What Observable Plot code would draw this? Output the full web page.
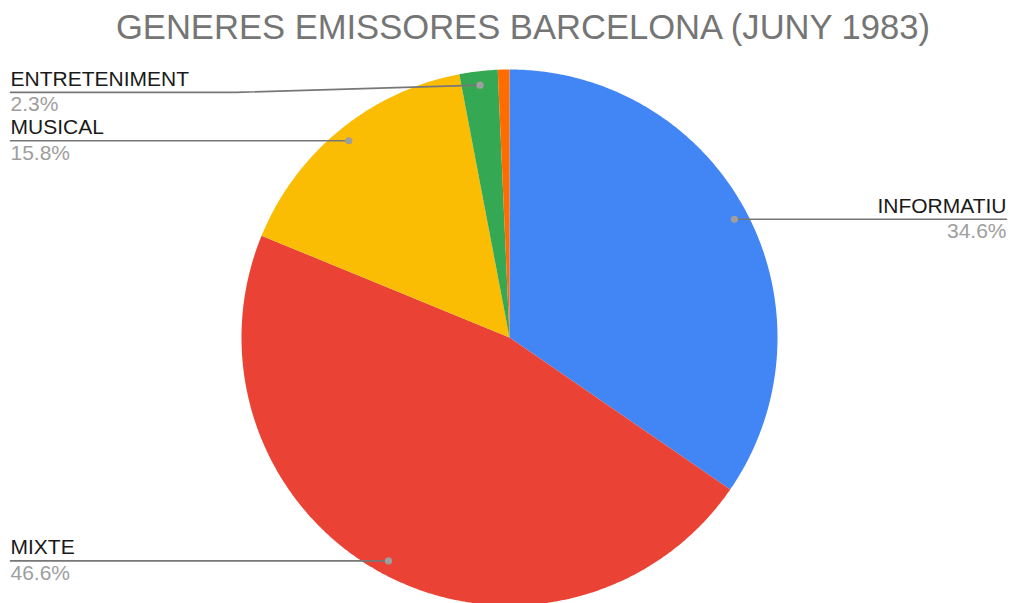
<!DOCTYPE html>
<html>
<head>
<meta charset="utf-8">
<script src="https://cdn.jsdelivr.net/npm/d3@7"></script>
<script src="https://cdn.jsdelivr.net/npm/@observablehq/plot@0.6"></script>
<style>
  html, body { margin: 0; padding: 0; background: #fff; }
  #wrap { width: 1010px; height: 603px; overflow: hidden; position: relative; }
  #title { height: 55px; width: 1010px; text-align: center; font-family: "Liberation Sans", Arial, sans-serif;
           font-size: 34.6px; color: #757575; line-height: 55px; padding-left: 36px; box-sizing: border-box; padding-top: 0px; }
  svg { display: block; }
</style>
</head>
<body>
<div id="wrap">
  <div id="title">GENERES EMISSORES BARCELONA (JUNY 1983)</div>
  <div id="chart"></div>
</div>
<script>
// ---- data ----
const categories = ["INFORMATIU", "MIXTE", "MUSICAL", "ENTRETENIMENT", "ALTRES"];
const values = [34.6, 46.6, 15.8, 2.3, 0.7];
const colors = ["#4285F4", "#EA4335", "#FBBC04", "#34A853", "#FF6D01"];
const labelled = ["INFORMATIU", "MIXTE", "MUSICAL", "ENTRETENIMENT"];

// ---- layout ----
const W = 1010, H = 548;
const cx = 509, cy = 282, R = 268;
const dotR = 0.948;
const leftEnd = (10 - cx) / R, rightEnd = (1006 - cx) / R;
const leaderShift = {ENTRETENIMENT: -0.027};
const leaderElbow = {ENTRETENIMENT: -1.02};

const data = categories.map((c, i) => ({name: c, value: values[i], color: colors[i]}));
const arcs = d3.pie().sort(null).value(d => d.value).startAngle(0).endAngle(2 * Math.PI)(data);

const slices = arcs.map(a => {
  const pts = [{x: 0, y: 0}];
  const n = Math.max(2, Math.ceil((a.endAngle - a.startAngle) / (Math.PI / 360)));
  for (let k = 0; k <= n; k++) {
    const t = a.startAngle + (a.endAngle - a.startAngle) * k / n;
    pts.push({x: Math.sin(t), y: Math.cos(t)});
  }
  return {color: a.data.color, pts};
});

const labels = arcs.filter(a => labelled.includes(a.data.name)).map(a => {
  const m = (a.startAngle + a.endAngle) / 2;
  const dx = dotR * Math.sin(m), dy = dotR * Math.cos(m);
  const right = dx > 0;
  const ly = dy + (leaderShift[a.data.name] || 0);
  const endX = right ? rightEnd : leftEnd;
  const path = [{x: dx, y: dy}];
  if (leaderElbow[a.data.name] !== undefined) path.push({x: leaderElbow[a.data.name], y: ly});
  path.push({x: endX, y: ly});
  return {name: a.data.name, pct: a.data.value.toFixed(1) + "%", dx, dy, endX, ly,
          anchor: right ? "end" : "start", path};
});

const marks = [];
for (const s of slices) {
  marks.push(Plot.line(s.pts, {x: "x", y: "y", fill: s.color, stroke: "none", curve: "linear-closed"}));
}
for (const l of labels) {
  marks.push(Plot.line(l.path, {x: "x", y: "y", stroke: "#777", strokeWidth: 1.6}));
}
marks.push(Plot.dot(labels, {x: "dx", y: "dy", r: 3.6, fill: "#9e9e9e", stroke: "none"}));
for (const side of ["start", "end"]) {
  marks.push(Plot.text(labels, {x: "endX", y: "ly", text: "name", textAnchor: side,
    filter: d => d.anchor === side, lineAnchor: "bottom", dy: -6.5, fontSize: 21, fill: "#1a1a1a"}));
  marks.push(Plot.text(labels, {x: "endX", y: "ly", text: "pct", textAnchor: side,
    filter: d => d.anchor === side, lineAnchor: "top", dy: 4, fontSize: 21, fill: "#9e9e9e"}));
}

const chart = Plot.plot({
  width: W, height: H,
  margin: 0,
  style: {fontFamily: "'Liberation Sans', Arial, sans-serif", background: "#fff", overflow: "visible"},
  x: {domain: [-cx / R, (W - cx) / R], range: [0, W], axis: null},
  y: {domain: [cy / R, -(H - cy) / R], range: [0, H], axis: null},
  marks
});
document.getElementById("chart").appendChild(chart);
</script>
</body>
</html>
